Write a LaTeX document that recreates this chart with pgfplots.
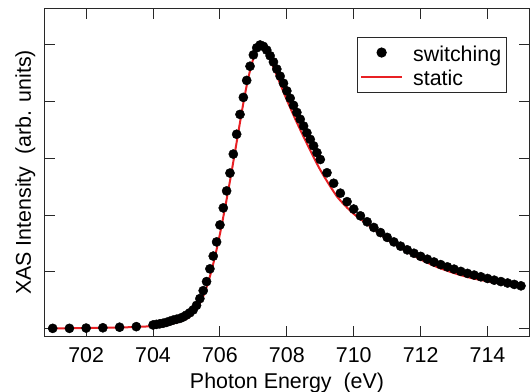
\documentclass[border=0pt]{standalone}
\usepackage{pgfplots}
\pgfplotsset{compat=1.18}
\usepackage{fontspec}
\setmainfont{Liberation Sans}
\definecolor{sred}{RGB}{232,32,36}
\definecolor{frame}{RGB}{40,40,40}
\pgfplotsset{
  dotlegend/.style={legend image code/.code={\draw[mark repeat=2,mark phase=2,##1] plot coordinates {(0bp,0bp) (20.5bp,0bp) (41bp,0bp)};}},
  linelegend/.style={legend image code/.code={\draw[##1] (0bp,0bp) -- (41bp,0bp);}},
}
\begin{document}
\fontsize{21.5}{25}\selectfont
\begin{tikzpicture}
\begin{axis}[name=ax,
  scale only axis, width=484bp, height=327bp,
  xmin=700.77, xmax=715.24, ymin=-0.027, ymax=1.127,
  xtick={702,704,...,714}, ytick={0,0.2,0.4,0.6,0.8,1.0},
  yticklabels={},
  /pgf/number format/assume math mode=true,
  /pgf/number format/set thousands separator={},
  tick align=inside, major tick length=10bp,
  axis line style={line width=1bp, frame},
  every tick/.style={line width=1bp, frame},
  xticklabel style={anchor=base, yshift=-26bp},
  xlabel={Photon Energy\ \ (eV)},
  ylabel={XAS Intensity\ \ (arb. units)},
  xlabel style={at={(axis description cs:0.5,0)}, anchor=base, yshift=-52bp},
  ylabel style={at={(axis description cs:-0.029,0.5)}, anchor=base},
  legend cell align=left,
  legend style={at={(axis description cs:0.955,0.915)}, anchor=north east,
    draw=frame, line width=1bp, inner xsep=2.5bp, inner ysep=3bp,
    row sep=0bp, column sep=7bp,
    nodes={inner xsep=3bp, inner ysep=0.5bp, text height=20.5bp, text depth=3bp}},
]
\addplot[only marks, mark=*, mark size=4.6bp, mark options={fill=black, draw=black}, dotlegend]
coordinates {
(701.0,0.000)(701.5,0.000)(702.0,0.001)(702.5,0.002)(703.0,0.004)(703.5,0.006)
(704.0,0.012)(704.1,0.014)(704.2,0.016)(704.3,0.018)(704.4,0.021)(704.5,0.025)
(704.6,0.029)(704.7,0.032)(704.8,0.035)(704.9,0.040)(705.0,0.047)(705.1,0.055)
(705.2,0.065)(705.3,0.081)(705.4,0.105)(705.5,0.133)(705.6,0.165)(705.7,0.210)
(705.8,0.255)(705.9,0.305)(706.0,0.365)(706.1,0.425)(706.2,0.485)(706.3,0.548)
(706.4,0.615)(706.5,0.685)(706.6,0.755)(706.7,0.815)(706.8,0.875)(706.9,0.925)
(707.0,0.965)(707.1,0.990)(707.2,1.000)(707.3,0.995)(707.4,0.982)(707.5,0.962)
(707.6,0.940)(707.7,0.915)(707.8,0.890)(707.9,0.865)(708.0,0.838)(708.1,0.812)
(708.2,0.787)(708.3,0.762)(708.4,0.738)(708.5,0.714)(708.6,0.690)(708.7,0.667)
(708.8,0.644)(708.9,0.620)(709.0,0.596)
(709.2,0.549)(709.4,0.512)(709.6,0.477)(709.8,0.447)(710.0,0.421)(710.2,0.397)
(710.4,0.376)(710.6,0.356)(710.8,0.338)(711.0,0.321)(711.2,0.305)(711.4,0.290)
(711.6,0.277)(711.8,0.265)(712.0,0.254)(712.2,0.244)(712.4,0.234)(712.6,0.225)
(712.8,0.217)(713.0,0.209)(713.2,0.201)(713.4,0.194)(713.6,0.188)(713.8,0.182)
(714.0,0.176)(714.2,0.170)(714.4,0.165)(714.6,0.160)(714.8,0.155)(715.0,0.150)
};
\addlegendentry{switching}
\addplot[sred, line width=2bp, smooth, tension=0.4, linelegend]
coordinates {
(701.0,0.000)(702.0,0.001)(703.0,0.003)(703.5,0.005)(704.0,0.008)(704.5,0.015)
(704.8,0.024)(705.0,0.034)(705.1,0.042)(705.2,0.053)(705.3,0.068)(705.4,0.088)
(705.5,0.113)(705.6,0.145)(705.7,0.183)(705.8,0.228)(705.9,0.278)(706.0,0.333)
(706.1,0.393)(706.2,0.455)(706.3,0.520)(706.4,0.588)(706.5,0.657)(706.6,0.727)
(706.7,0.795)(706.8,0.857)(706.9,0.910)(707.0,0.953)(707.1,0.984)(707.2,0.998)
(707.3,0.990)(707.4,0.972)(707.5,0.948)(707.6,0.921)(707.7,0.892)(707.8,0.863)
(707.9,0.834)(708.0,0.806)(708.2,0.752)(708.4,0.701)(708.6,0.652)(708.8,0.604)
(709.0,0.559)(709.25,0.510)(709.5,0.465)(709.75,0.432)(710.0,0.404)(710.5,0.359)
(711.0,0.314)(711.5,0.277)(712.0,0.243)(712.5,0.216)(713.0,0.195)(713.5,0.178)
(714.0,0.166)(714.5,0.156)(715.0,0.147)
};
\addlegendentry{static}
\end{axis}
\pgfresetboundingbox
\path[use as bounding box] ([shift={(-45bp,-56bp)}]ax.south west) rectangle ([shift={(1bp,9bp)}]ax.north east);
\end{tikzpicture}
\end{document}
